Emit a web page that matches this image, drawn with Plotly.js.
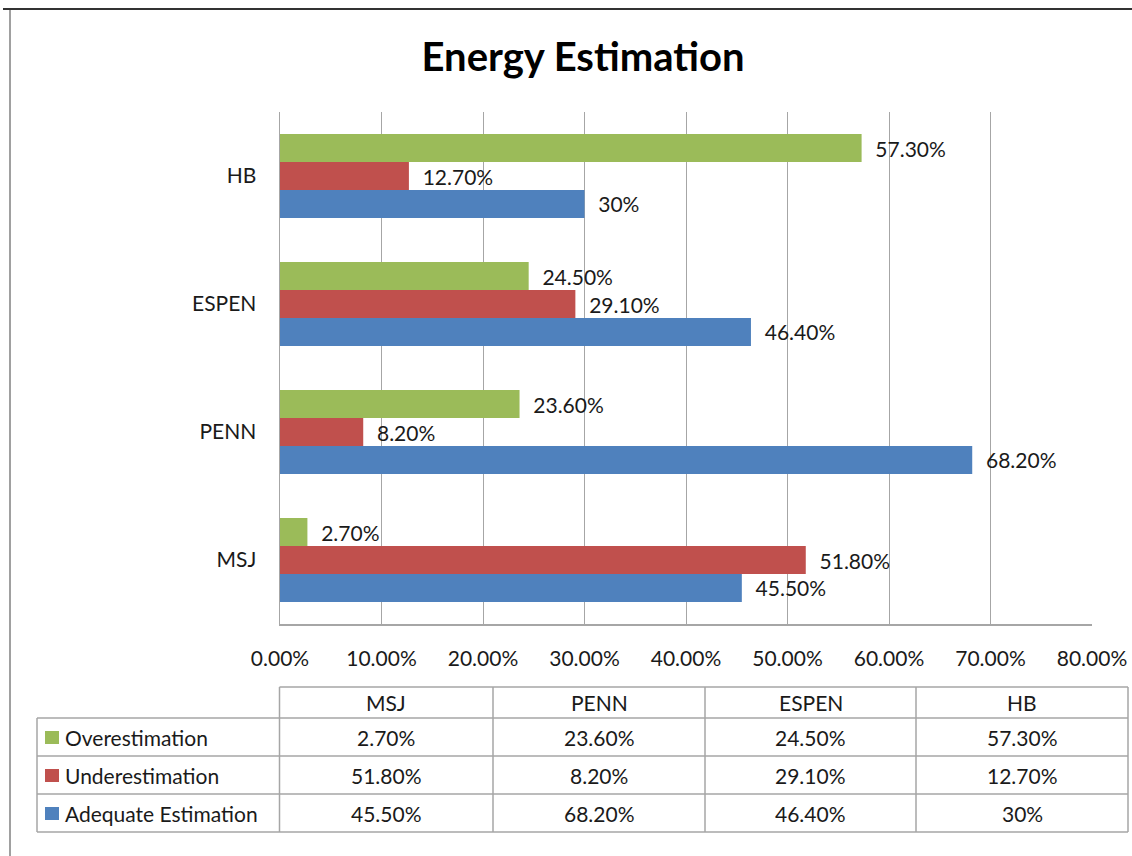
<!DOCTYPE html>
<html>
<head>
<meta charset="utf-8">
<script src="https://cdn.plot.ly/plotly-3.0.1.min.js"></script>
<style>html,body{margin:0;padding:0;background:#fff;}#chart{width:1132px;height:856px;}</style>
</head>
<body>
<div id="chart"></div>
<script>
// ---- data ----
const categories = ['MSJ', 'PENN', 'ESPEN', 'HB'];
const overestimation = [2.7, 23.6, 24.5, 57.3];
const underestimation = [51.8, 8.2, 29.1, 12.7];
const adequate = [45.5, 68.2, 46.4, 30];
const overLabels = ['2.70%', '23.60%', '24.50%', '57.30%'];
const underLabels = ['51.80%', '8.20%', '29.10%', '12.70%'];
const adequateLabels = ['45.50%', '68.20%', '46.40%', '30%'];
const seriesNames = ['Overestimation', 'Underestimation', 'Adequate Estimation'];
const xTickValues = [0, 10, 20, 30, 40, 50, 60, 70, 80];
const xTickLabels = ['0.00%', '10.00%', '20.00%', '30.00%', '40.00%', '50.00%', '60.00%', '70.00%', '80.00%'];

// ---- styling ----
const W = 1132, H = 856;
const FONT = 'Lato, "Open Sans", sans-serif';
const FS = 21;
const GREEN = '#9BBB59', RED = '#C0504D', BLUE = '#4F81BD';
const GRID = '#a6a6a6';
const TEXT = '#1a1a1a';
const px = v => v / W;
const py = v => 1 - v / H;

function barTrace(name, values, labels, color) {
  return {
    type: 'bar', orientation: 'h', name: name,
    y: categories, x: values,
    text: labels, texttemplate: '\u00a0\u00a0%{text}',
    textposition: 'outside', constraintext: 'none', cliponaxis: false,
    textfont: {family: FONT, size: FS, color: TEXT},
    marker: {color: color, line: {width: 0}},
    hoverinfo: 'skip'
  };
}

const bars = [
  barTrace(seriesNames[2], adequate, adequateLabels, BLUE),
  barTrace(seriesNames[1], underestimation, underLabels, RED),
  barTrace(seriesNames[0], overestimation, overLabels, GREEN)
];

// ---- data table (built from the arrays above) ----
const colEdges = [37, 279.5, 493, 705, 916, 1128];
const rowEdges = [687, 718, 756, 794, 832];
const seriesColors = [GREEN, RED, BLUE];
const seriesLabels = [overLabels, underLabels, adequateLabels];

const shapes = [
  {type: 'line', xref: 'paper', yref: 'paper', x0: px(3), x1: 1, y0: py(9), y1: py(9), line: {color: '#333', width: 2}},
  {type: 'line', xref: 'paper', yref: 'paper', x0: px(10), x1: px(10), y0: py(10), y1: 0, line: {color: '#a0a0a0', width: 2}}
];
const annotations = [];
const hline = (y, xa, xb) => shapes.push({type: 'line', xref: 'paper', yref: 'paper', x0: px(xa), x1: px(xb), y0: py(y), y1: py(y), line: {color: GRID, width: 1.5}});
const vline = (x, ya, yb) => shapes.push({type: 'line', xref: 'paper', yref: 'paper', x0: px(x), x1: px(x), y0: py(ya), y1: py(yb), line: {color: GRID, width: 1.5}});

hline(rowEdges[0], colEdges[1], colEdges[colEdges.length - 1]);
for (let r = 1; r < rowEdges.length; r++) hline(rowEdges[r], colEdges[0], colEdges[colEdges.length - 1]);
vline(colEdges[0], rowEdges[1], rowEdges[rowEdges.length - 1]);
for (let c = 1; c < colEdges.length; c++) vline(colEdges[c], rowEdges[0], rowEdges[rowEdges.length - 1]);

const cellText = (text, x, y, anchor) => annotations.push({
  xref: 'paper', yref: 'paper', x: px(x), y: py(y), xanchor: anchor, yanchor: 'middle',
  text: text, showarrow: false, font: {family: FONT, size: FS, color: TEXT}
});

categories.forEach((cat, i) => {
  const xc = (colEdges[i + 1] + colEdges[i + 2]) / 2;
  cellText(cat, xc, (rowEdges[0] + rowEdges[1]) / 2, 'center');
});
seriesNames.forEach((name, s) => {
  const yc = (rowEdges[s + 1] + rowEdges[s + 2]) / 2;
  shapes.push({type: 'rect', xref: 'paper', yref: 'paper', x0: px(45), x1: px(59), y0: py(yc - 6), y1: py(yc + 7),
    fillcolor: seriesColors[s], line: {width: 0}});
  cellText(name, 63, yc, 'left');
  categories.forEach((cat, i) => {
    const xc = (colEdges[i + 1] + colEdges[i + 2]) / 2;
    cellText(seriesLabels[s][i], xc, yc, 'center');
  });
});

const layout = {
  width: W, height: H,
  margin: {l: 0, r: 0, t: 0, b: 0},
  paper_bgcolor: '#fff', plot_bgcolor: '#fff',
  showlegend: false,
  barmode: 'group', bargap: 0.344, bargroupgap: 0,
  font: {family: FONT, size: FS, color: TEXT},
  title: {
    text: '<b>Energy Estimation</b>',
    font: {family: FONT, size: 40, color: '#000'},
    x: px(583), xref: 'paper', xanchor: 'center',
    y: py(57), yref: 'paper', yanchor: 'middle'
  },
  xaxis: {
    domain: [px(280), px(1092)],
    range: [0, 80], tickvals: xTickValues, ticktext: xTickLabels,
    showgrid: true, gridcolor: GRID, gridwidth: 1,
    zeroline: false, showline: true, linecolor: GRID, linewidth: 1.5,
    ticks: '', ticklabelstandoff: 15,
    tickfont: {family: FONT, size: FS, color: TEXT},
    fixedrange: true
  },
  yaxis: {
    domain: [py(624), py(112)],
    type: 'category', categoryorder: 'array', categoryarray: categories,
    range: [-0.5, 3.5],
    showgrid: false, zeroline: false, showline: true, linecolor: GRID, linewidth: 1.5,
    ticks: '', ticklabelstandoff: 18,
    tickfont: {family: FONT, size: FS, color: TEXT},
    fixedrange: true
  },
  shapes: shapes,
  annotations: annotations
};

Plotly.newPlot('chart', bars, layout, {displayModeBar: false, staticPlot: true});
</script>
</body>
</html>
